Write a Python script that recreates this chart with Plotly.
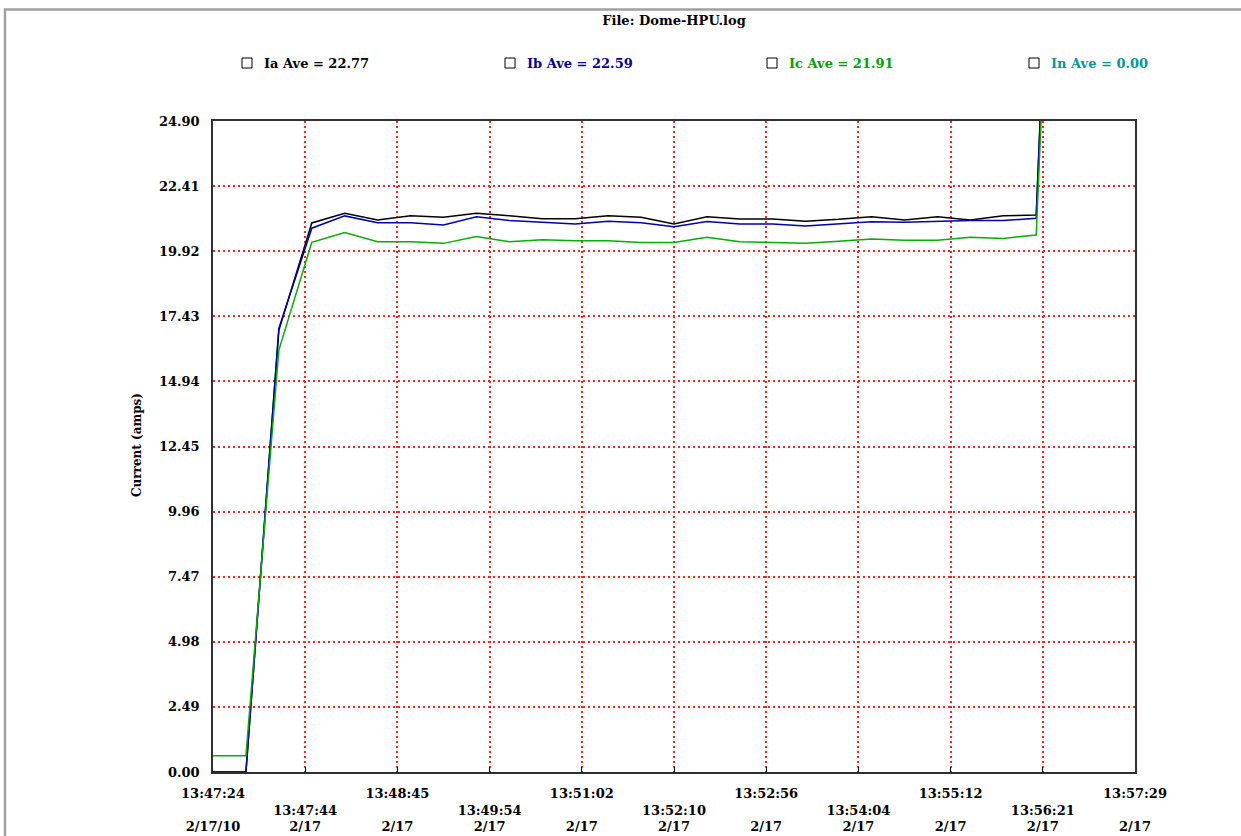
import plotly.graph_objects as go
import numpy as np

# ---------------- data ----------------
sample = list(range(29))  # log sample number

ia = [0.00, 0.00, 16.90, 21.00, 21.37, 21.11, 21.28, 21.22, 21.37, 21.28,
      21.16, 21.16, 21.28, 21.22, 20.96, 21.24, 21.15, 21.15, 21.07, 21.14,
      21.24, 21.11, 21.24, 21.11, 21.28, 21.30, 52.0, 52.0, 52.0]
ib = [0.00, 0.00, 16.97, 20.80, 21.27, 21.01, 21.01, 20.92, 21.24, 21.09,
      21.03, 20.96, 21.07, 21.01, 20.86, 21.06, 20.96, 20.96, 20.88, 20.96,
      21.05, 21.03, 21.07, 21.09, 21.09, 21.18, 52.0, 52.0, 52.0]
ic = [0.62, 0.62, 16.14, 20.26, 20.63, 20.28, 20.28, 20.22, 20.48, 20.28,
      20.36, 20.32, 20.32, 20.25, 20.25, 20.45, 20.28, 20.26, 20.22, 20.30,
      20.39, 20.34, 20.34, 20.45, 20.41, 20.54, 50.0, 50.0, 50.0]
i_n = [0, 0, 0, 0, 0, 0, 0, 0, 0, 0, 0, 0, 0, 0, 0, 0, 0, 0, 0, 0,
       0, 0, 0, 0, 0, 0, 0, 0, 0]

series_names = ["Ia", "Ib", "Ic", "In"]
series_aves = [22.77, 22.59, 21.91, 0.00]
line_colors = ["#000000", "#0000b0", "#00b000", "#009999"]
text_colors = ["#000000", "#0000a0", "#00a000", "#009999"]

tick_times = ["13:47:24", "13:47:44", "13:48:45", "13:49:54", "13:51:02",
              "13:52:10", "13:52:56", "13:54:04", "13:55:12", "13:56:21",
              "13:57:29"]
tick_dates = ["2/17/10", "2/17", "2/17", "2/17", "2/17", "2/17", "2/17",
              "2/17", "2/17", "2/17", "2/17"]
y_ticks = [0.00, 2.49, 4.98, 7.47, 9.96, 12.45, 14.94, 17.43, 19.92, 22.41, 24.90]

title_text = "File: Dome-HPU.log"
y_title = "Current (amps)"

# ---------------- layout geometry ----------------
W, H = 1241, 836
L, R, T, B = 213, 1135, 121, 772
x_max = 28
tick_pos = list(np.linspace(0, x_max, len(tick_times)))

def px_x(p):
    return (p - L) / (R - L)

def px_y(p):
    return (B - p) / (B - T)

FONT = "DejaVu Serif"
GRID = dict(showgrid=True, gridcolor="#ff2020", gridwidth=2, griddash="2px,3px")

fig = go.Figure()
for name, vals, col in zip(series_names, [ia, ib, ic, i_n], line_colors):
    # the neutral current sits on the zero axis and is hidden under it in the original
    vis = "legendonly" if name == "In" else True
    fig.add_trace(go.Scatter(x=sample, y=vals, mode="lines", name=name, visible=vis,
                             line=dict(color=col, width=1.5), showlegend=False))

ticktext = []
for i, (t, d) in enumerate(zip(tick_times, tick_dates)):
    if i % 2 == 0:
        ticktext.append(f"{t}<br> <br>{d}")
    else:
        ticktext.append(f" <br>{t}<br>{d}")

fig.update_xaxes(range=[0, x_max], tickvals=tick_pos, ticktext=ticktext, **GRID,
                 zeroline=False, showline=True, linecolor="#303030", linewidth=2,
                 mirror=True, ticks="inside", ticklen=5, tickcolor="#000000",
                 ticklabelstandoff=8, automargin=False,
                 tickfont=dict(family=FONT, size=13, color="#000000", weight="bold"))
fig.update_yaxes(range=[0, 24.90], tickvals=y_ticks,
                 ticktext=[f"{v:.2f}" for v in y_ticks], **GRID,
                 zeroline=False, showline=True, linecolor="#303030", linewidth=1.5,
                 mirror=True, ticks="", ticklabelstandoff=9, automargin=False,
                 tickfont=dict(family=FONT, size=13, color="#000000", weight="bold"))

annotations = []
shapes = []
legend_box_px = [242, 505, 767, 1029]
for bx, name, ave, tcol in zip(legend_box_px, series_names, series_aves, text_colors):
    shapes.append(dict(type="rect", xref="paper", yref="paper",
                       x0=px_x(bx), x1=px_x(bx + 10), y0=px_y(68), y1=px_y(58),
                       line=dict(color="#000000", width=1), fillcolor="white"))
    annotations.append(dict(xref="paper", yref="paper", x=px_x(bx + 20), y=px_y(63),
                            xanchor="left", yanchor="middle", showarrow=False,
                            text=f"{name} Ave = {ave:.2f}",
                            font=dict(family=FONT, size=13, color=tcol, weight="bold")))

annotations.append(dict(xref="paper", yref="paper", x=px_x(137), y=px_y(445),
                        textangle=-90, showarrow=False, text=y_title,
                        xanchor="center", yanchor="middle",
                        font=dict(family=FONT, size=12, color="#000000", weight="bold")))

# outer sunken frame
shapes.append(dict(type="rect", xref="paper", yref="paper",
                   x0=px_x(5), x1=px_x(1260), y0=px_y(850), y1=px_y(9.5),
                   line=dict(color="#a0a0a0", width=2.5), fillcolor="rgba(0,0,0,0)",
                   layer="below"))

fig.update_layout(
    width=W, height=H,
    margin=dict(l=L, r=W - R, t=T, b=H - B, pad=0, autoexpand=False),
    paper_bgcolor="white", plot_bgcolor="white",
    title=dict(text=title_text, x=0.5, xref="paper", xanchor="center",
               y=1 - 20 / H, yanchor="middle", automargin=False,
               font=dict(family=FONT, size=13, color="#000000", weight="bold")),
    annotations=annotations, shapes=shapes,
    showlegend=False,
)

fig.write_html("out.html", config={"displayModeBar": False},
               post_script="document.body.style.margin='0';document.body.style.overflow='hidden';")
